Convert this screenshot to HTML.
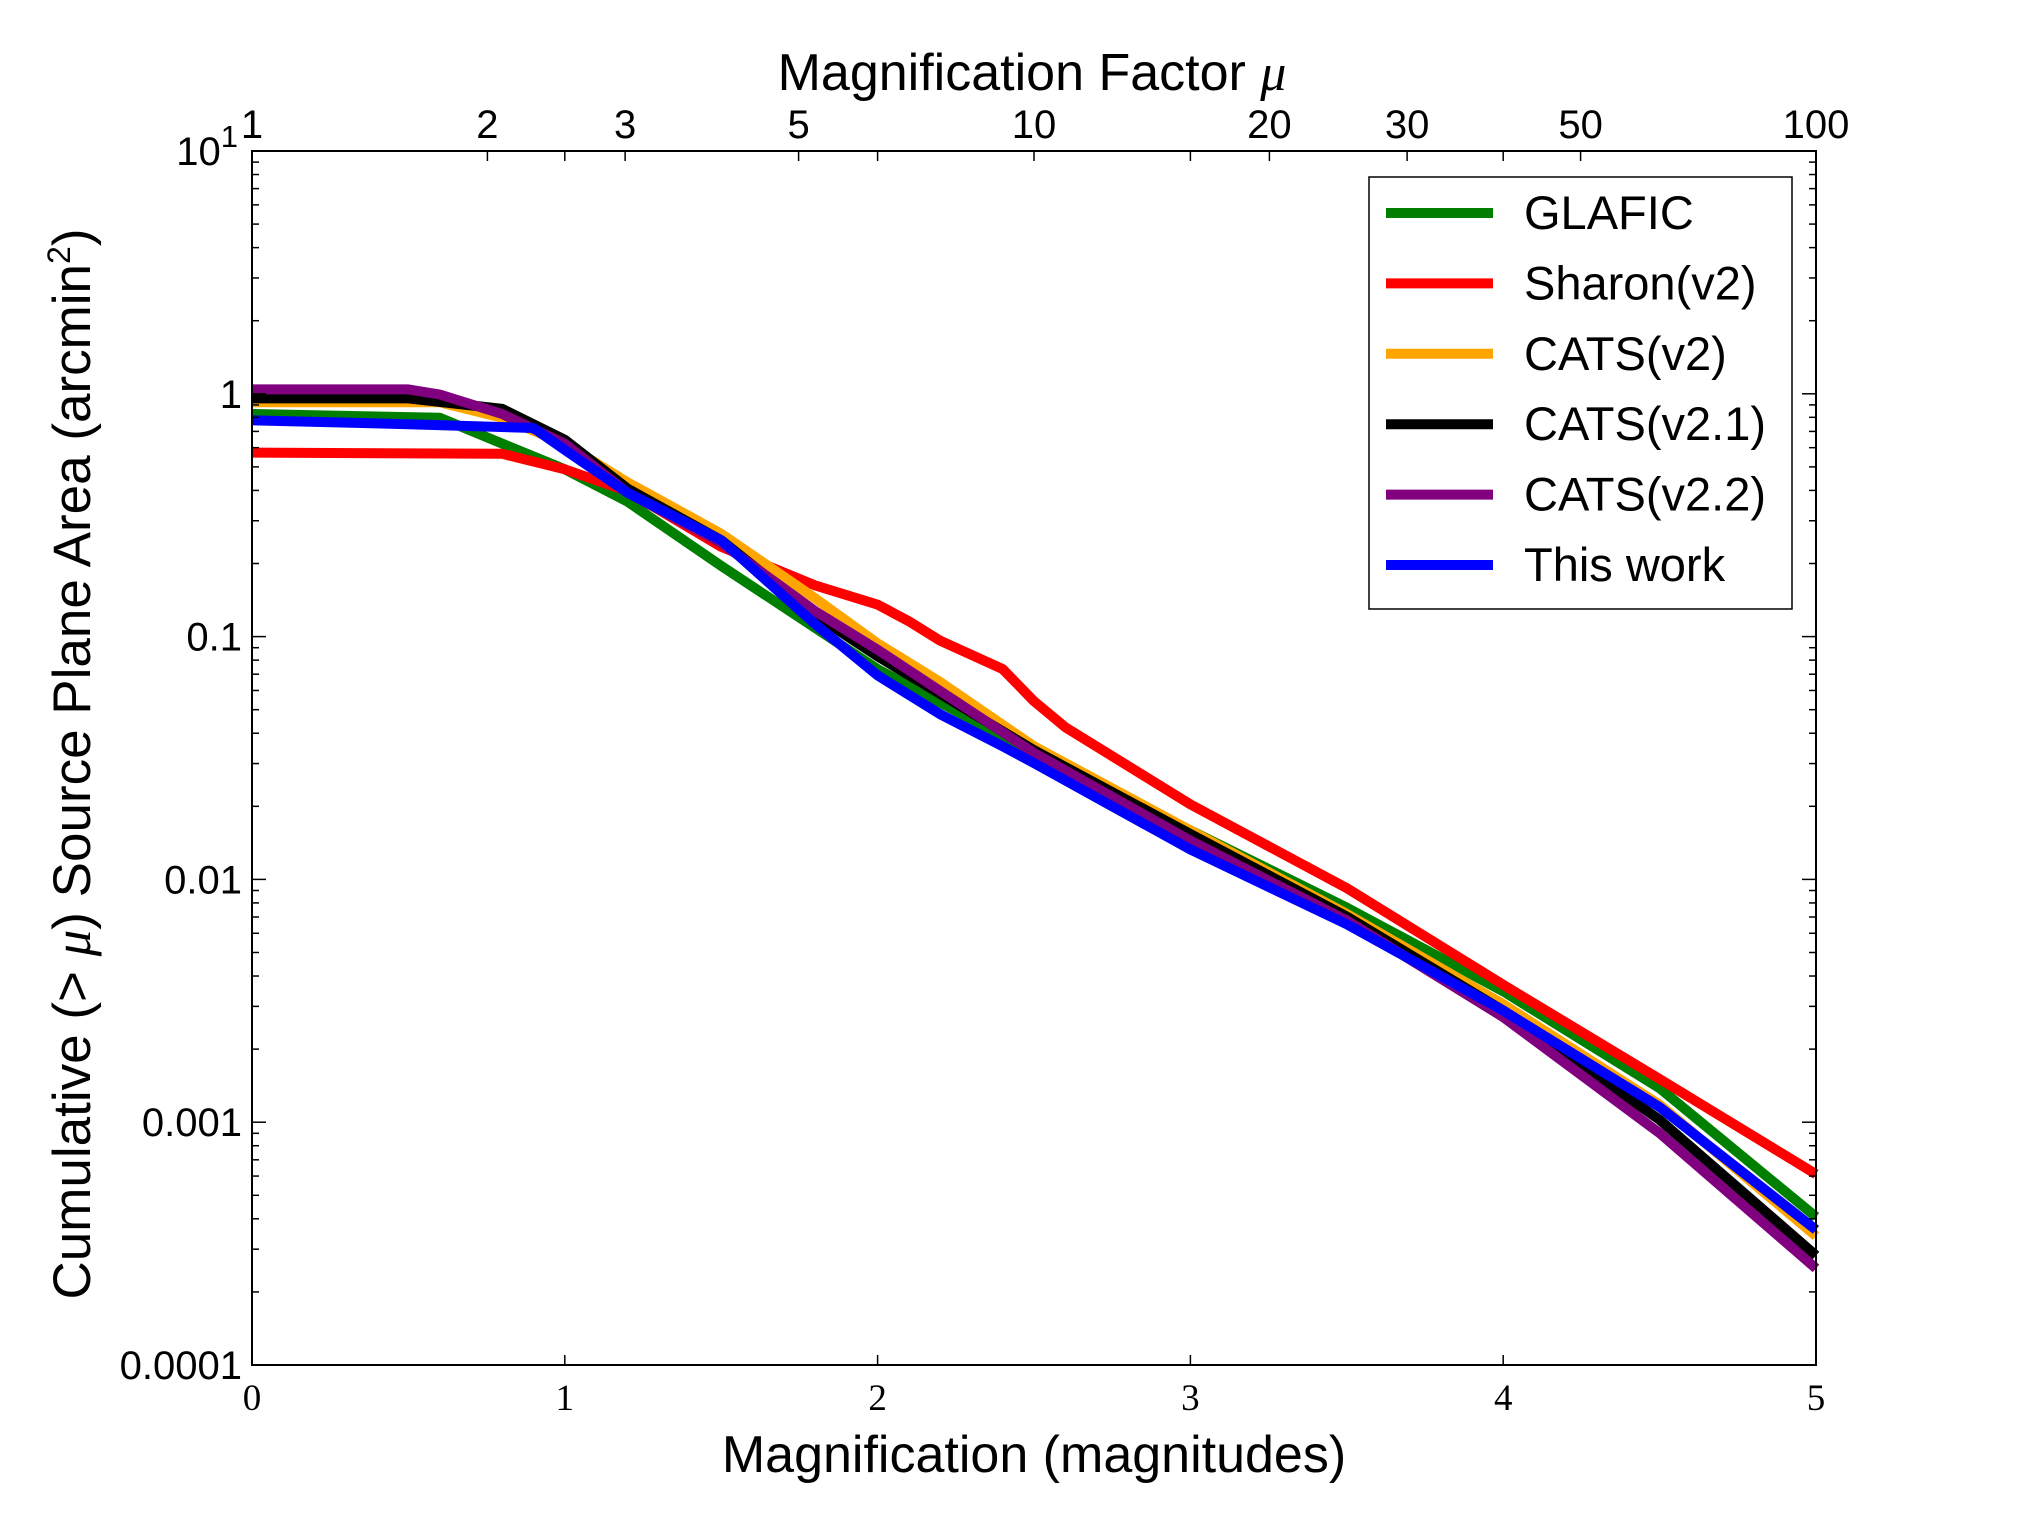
<!DOCTYPE html>
<html><head><meta charset="utf-8"><style>body{margin:0;background:#fff}svg{display:block}text{font-family:"Liberation Sans",sans-serif}</style></head>
<body>
<svg id="chart" width="2017" height="1517" viewBox="0 0 2017 1517" xmlns="http://www.w3.org/2000/svg">
<g id="lines"></g>
<g id="axes"></g>
<g id="legend"></g>
</svg>
<script>
const seriesNames = ["GLAFIC","Sharon(v2)","CATS(v2)","CATS(v2.1)","CATS(v2.2)","This work"];
const seriesColors = ["#007f00","#ff0000","#ffa500","#000000","#800080","#0000ff"];
const glaficX = [0,0.6,0.8,1.0,1.2,1.5,2.0,2.5,3.0,3.5,4.0,4.5,5.0];
const glaficY = [-0.083,-0.099,-0.205,-0.311,-0.444,-0.709,-1.134,-1.479,-1.798,-2.116,-2.461,-2.86,-3.39];
const sharonX = [0,0.8,1.0,1.2,1.5,1.8,2.0,2.1,2.2,2.4,2.5,2.6,3.0,3.5,4.0,4.5,5.0];
const sharonY = [-0.242,-0.247,-0.311,-0.401,-0.63,-0.789,-0.868,-0.937,-1.017,-1.134,-1.266,-1.373,-1.691,-2.036,-2.434,-2.822,-3.214];
const cats2X = [0,0.6,0.8,1.0,1.2,1.5,1.8,2.0,2.2,2.5,3.0,3.5,4.0,4.5,5.0];
const cats2Y = [-0.035,-0.035,-0.099,-0.205,-0.364,-0.576,-0.842,-1.028,-1.187,-1.452,-1.798,-2.142,-2.514,-2.928,-3.469];
const cats21X = [0,0.5,0.8,1.0,1.2,1.5,1.8,2.0,2.5,3.0,3.5,4.0,4.5,5.0];
const cats21Y = [-0.019,-0.019,-0.062,-0.189,-0.39,-0.603,-0.911,-1.081,-1.468,-1.813,-2.153,-2.54,-2.99,-3.549];
const cats22X = [0,0.5,0.6,0.8,1.0,1.2,1.5,1.8,2.0,2.5,3.0,3.5,4.0,4.5,5.0];
const cats22Y = [0.018,0.018,-0.003,-0.083,-0.205,-0.407,-0.614,-0.895,-1.054,-1.479,-1.84,-2.169,-2.567,-3.045,-3.602];
const workX = [0,0.5,0.9,1.0,1.2,1.5,1.8,2.0,2.2,2.4,2.5,3.0,3.5,4.0,4.5,5.0];
const workY = [-0.109,-0.125,-0.141,-0.231,-0.407,-0.603,-0.948,-1.16,-1.32,-1.452,-1.521,-1.877,-2.185,-2.54,-2.938,-3.443];
const xTicks = [0,1,2,3,4,5];
const yTickLabels = ["1","0.1","0.01","0.001","0.0001"];
const muTicks = [1,2,3,5,10,20,30,50,100];

const L=252,R=1816,T=151,B=1365;
const NS="http://www.w3.org/2000/svg";
const xS=m=>L+(m/5)*(R-L);
const yS=lg=>T+(1-lg)/5*(B-T);
function mk(tag,attrs,parent){const e=document.createElementNS(NS,tag);for(const k in attrs)e.setAttribute(k,attrs[k]);parent.appendChild(e);return e;}
const gL=document.getElementById('lines'),gA=document.getElementById('axes'),gG=document.getElementById('legend');
const allX=[glaficX,sharonX,cats2X,cats21X,cats22X,workX];
const allY=[glaficY,sharonY,cats2Y,cats21Y,cats22Y,workY];
allX.forEach((xs,i)=>{
  const d=xs.map((x,j)=>(j?'L':'M')+xS(x).toFixed(1)+','+yS(allY[i][j]).toFixed(1)).join(' ');
  const p=mk('path',{d:d,fill:'none',stroke:seriesColors[i],'stroke-width':10,'stroke-linejoin':'round'},gL);
  
  
});
mk('rect',{x:L,y:T,width:R-L,height:B-T,fill:'none',stroke:'#000','stroke-width':2},gA);
xTicks.forEach(m=>{
  mk('line',{x1:xS(m),x2:xS(m),y1:B,y2:B-10,stroke:'#000','stroke-width':1.5},gA);
  mk('line',{x1:xS(m),x2:xS(m),y1:T,y2:T+10,stroke:'#000','stroke-width':1.5},gA);
  const t=mk('text',{x:xS(m),y:1410,'text-anchor':'middle','font-size':37,style:'font-family:"Liberation Serif",serif'},gA);t.textContent=m;
  
  
});
muTicks.forEach(u=>{
  const x=xS(2.5*Math.log10(u));
  mk('line',{x1:x,x2:x,y1:T,y2:T+10,stroke:'#000','stroke-width':1.5},gA);
  const t=mk('text',{x:x,y:138,'text-anchor':'middle','font-size':40},gA);t.textContent=u;
  
  
});
for(let d=-4;d<1;d++){for(let k=1;k<10;k++){const y=yS(d+Math.log10(k));const len=k===1?14:7;
  mk('line',{x1:L,x2:L+len,y1:y,y2:y,stroke:'#000','stroke-width':1.5},gA);
  mk('line',{x1:R,x2:R-len,y1:y,y2:y,stroke:'#000','stroke-width':1.5},gA);}}
yTickLabels.forEach((s,i)=>{const t=mk('text',{x:242,y:yS(-i)+14,'text-anchor':'end','font-size':40},gA);t.textContent=s;
  
  });
const tt=mk('text',{x:238,y:165,'text-anchor':'end','font-size':40},gA);tt.innerHTML='10<tspan dy="-18" font-size="31">1</tspan>';
const xt=mk('text',{x:1034,y:1472,'text-anchor':'middle','font-size':52},gA);xt.textContent='Magnification (magnitudes)';


const topTitle=mk('text',{x:1032,y:90,'text-anchor':'middle','font-size':52},gA);topTitle.innerHTML='Magnification Factor <tspan font-style="italic" style="font-family:\'Liberation Serif\',serif">μ</tspan>';


const yt=mk('text',{x:0,y:0,'text-anchor':'middle','font-size':53,transform:'translate(90,764) rotate(-90)'},gA);
yt.innerHTML='Cumulative (&gt; <tspan font-style="italic" style="font-family:\'Liberation Serif\',serif">μ</tspan>) Source Plane Area (arcmin<tspan dy="-20" font-size="32">2</tspan><tspan dy="20">)</tspan>';


mk('rect',{x:1369,y:177,width:423,height:432,fill:'#fff',stroke:'#000','stroke-width':1.5},gG);
seriesNames.forEach((n,i)=>{const y=213+i*70.4;
  mk('line',{x1:1386,x2:1493,y1:y,y2:y,stroke:seriesColors[i],'stroke-width':10},gG);
  const t=mk('text',{x:1524,y:y+16,'font-size':47},gG);t.textContent=n;
  
  });
</script>
</body></html>
